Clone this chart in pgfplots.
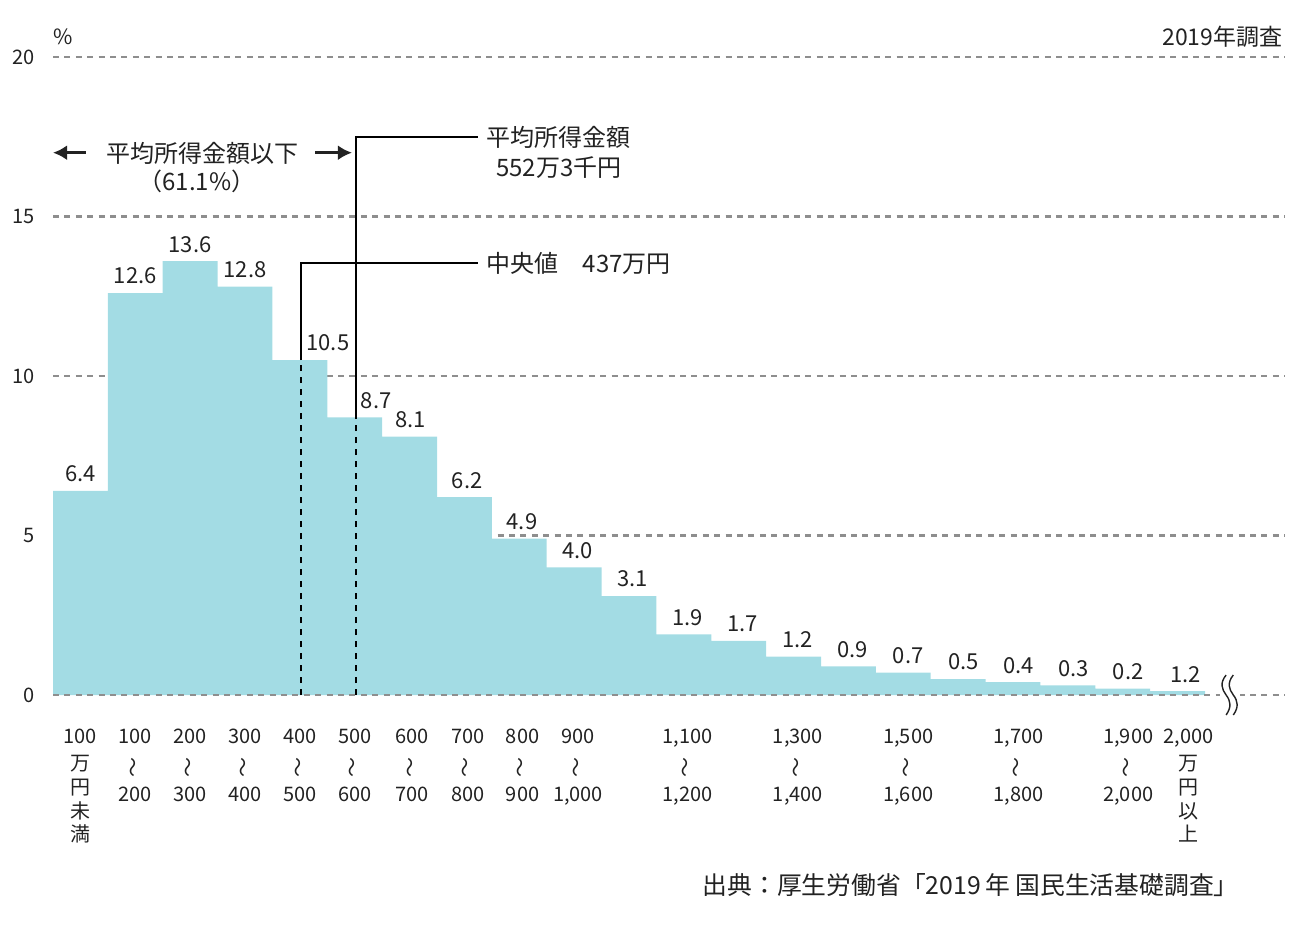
\documentclass[border=0pt]{standalone}
\usepackage{pgfplots}
\pgfplotsset{compat=1.18}
\usepackage{graphicx}
\usepackage{fontspec}
\setmainfont{Noto Sans CJK JP}
\usetikzlibrary{arrows.meta}
\definecolor{barc}{HTML}{A3DCE4}
\definecolor{gridc}{HTML}{8E8E8E}
\definecolor{txt}{HTML}{222222}
\newcommand{\wv}{\rotatebox[origin=c]{90}{～}}
\begin{document}
\begin{tikzpicture}
\path[use as bounding box] (-26.5pt,-116pt) rectangle (623.5pt,347.5pt);
\begin{axis}[
  at={(0,0)}, anchor=south west,
  scale only axis, width=616pt, height=319pt,
  xmin=0, xmax=22.458, ymin=0, ymax=20,
  clip=false,
  axis line style={draw=none},
  major tick length=0pt,
  ymajorgrids, 
  grid style={gridc, line width=1.3pt, dash pattern=on 3pt off 2.7pt},
  ytick={0,5,10,15,20},
  yticklabel style={font=\fontsize{10}{12}\selectfont, text=txt, inner sep=0pt, anchor=east, xshift=-9pt},
  /pgf/number format/assume math mode=true,
  xtick={0.5,1.5,2.5,3.5,4.5,5.5,6.55,7.56,8.56,9.57,11.57,13.58,15.59,17.6,19.6,20.7},
  xticklabels={{100\\[-1pt]万\\[-2.5pt]円\\[-2.5pt]未\\[-3pt]満},{100\\\wv\\200},{200\\\wv\\300},{300\\\wv\\400},{400\\\wv\\500},{500\\\wv\\600},{600\\\wv\\700},{700\\\wv\\800},{800\\\wv\\900},{900\\\wv\\1,000},{1,100\\\wv\\1,200},{1,300\\\wv\\1,400},{1,500\\\wv\\1,600},{1,700\\\wv\\1,800},{1,900\\\wv\\2,000},{2,000\\[-1pt]万\\[-2.5pt]円\\[-2.5pt]以\\[-3pt]上}},
  xticklabel style={font=\fontsize{10}{14.5}\selectfont, text=txt, align=center, inner sep=0pt, anchor=north, yshift=-17pt},
]
\addplot[ybar interval, fill=barc, draw=none] coordinates {
(0,6.4) (1,12.6) (2,13.6) (3,12.8) (4,10.5) (5,8.7) (6,8.1) (7,6.2) (8,4.9) (9,4.0)
(10,3.1) (11,1.9) (12,1.7) (13,1.2) (14,0.9) (15,0.7) (16,0.5) (17,0.4) (18,0.3) (19,0.2)
(20,0.12) (21,0.12)};
\addplot[draw=none, mark=none, nodes near coords, point meta=explicit symbolic,
  every node near coord/.append style={anchor=center, yshift=8.5pt, inner sep=0pt, text=txt, font=\fontsize{11}{13}\selectfont}]
  table[meta=label] {
x y label
0.5 6.4 6.4
1.5 12.6 12.6
2.5 13.6 13.6
3.5 12.8 12.8
5.01 10.5 10.5
5.89 8.7 8.7
6.52 8.1 8.1
7.55 6.2 6.2
8.55 4.9 4.9
9.56 4.0 4.0
10.56 3.1 3.1
11.57 1.9 1.9
12.57 1.7 1.7
13.57 1.2 1.2
14.58 0.9 0.9
15.59 0.7 0.7
16.6 0.5 0.5
17.6 0.4 0.4
18.6 0.3 0.3
19.6 0.2 0.2
20.64 0.12 1.2
};
% zero line on top
\draw[gridc, line width=1.3pt, dash pattern=on 3pt off 2.7pt] (axis cs:0,0) -- (axis cs:22.458,0);
% break symbol
\begin{scope}[shift={(axis cs:21.45,0)}]
\fill[white] (-5pt,-3pt) rectangle (5pt,3pt);
\draw[txt, line width=0.7pt] (-1.8pt,10pt) .. controls (-5pt,6pt) and (-4pt,3pt) .. (-1.8pt,0pt) .. controls (0.5pt,-3pt) and (1pt,-6pt) .. (-1.8pt,-10pt);
\draw[txt, line width=0.7pt] (1.8pt,10pt) .. controls (-1.4pt,6pt) and (-0.4pt,3pt) .. (1.8pt,0pt) .. controls (4.1pt,-3pt) and (4.6pt,-6pt) .. (1.8pt,-10pt);
\end{scope}
% median and mean lines
\draw[black, line width=1.2pt, dash pattern=on 3pt off 3pt] (axis cs:4.52,0) -- (axis cs:4.52,10.5);
\draw[black, line width=1.2pt] (axis cs:4.52,10.5) -- (axis cs:4.52,13.54) -- (axis cs:7.747,13.54);
\draw[black, line width=1.2pt, dash pattern=on 3pt off 3pt] (axis cs:5.518,0) -- (axis cs:5.518,8.7);
\draw[black, line width=1.2pt] (axis cs:5.518,8.7) -- (axis cs:5.518,17.49) -- (axis cs:7.747,17.49);
\node[anchor=west, align=center, text=txt, font=\fontsize{12}{15}\selectfont, inner sep=0pt] at (axis cs:7.9,17.02) {平均所得金額\\552万3千円};
\node[anchor=west, text=txt, font=\fontsize{12}{15}\selectfont, inner sep=0pt] at (axis cs:7.9,13.54) {中央値\quad 437万円};
% arrows
\draw[txt, line width=1.5pt, -{Latex[length=7pt, width=7.5pt]}] (axis cs:0.6,17) -- (axis cs:0,17);
\draw[txt, line width=1.5pt, -{Latex[length=7pt, width=7.5pt]}] (axis cs:4.78,17) -- (axis cs:5.45,17);
\node[text=txt, font=\fontsize{12}{15}\selectfont, inner sep=0pt] at (axis cs:2.734,16.99) {平均所得金額以下};
\node[text=txt, font=\fontsize{12}{15}\selectfont, inner sep=0pt] at (axis cs:2.625,16.11) {（61.1\%）};
% corner texts
\node[anchor=west, text=txt, font=\fontsize{10.5}{12}\selectfont, inner sep=0pt] at (axis cs:0,20.63) {\%};
\node[anchor=east, text=txt, font=\fontsize{11.5}{13}\selectfont, inner sep=0pt] at (axis cs:22.42,20.63) {2019年調査};
\node[anchor=east, text=txt, font=\fontsize{12.4}{14}\selectfont, inner sep=0pt] at (axis cs:21.62,-5.96) {出典：厚生労働省「2019\,年 国民生活基礎調査」};
\end{axis}
\end{tikzpicture}
\end{document}
